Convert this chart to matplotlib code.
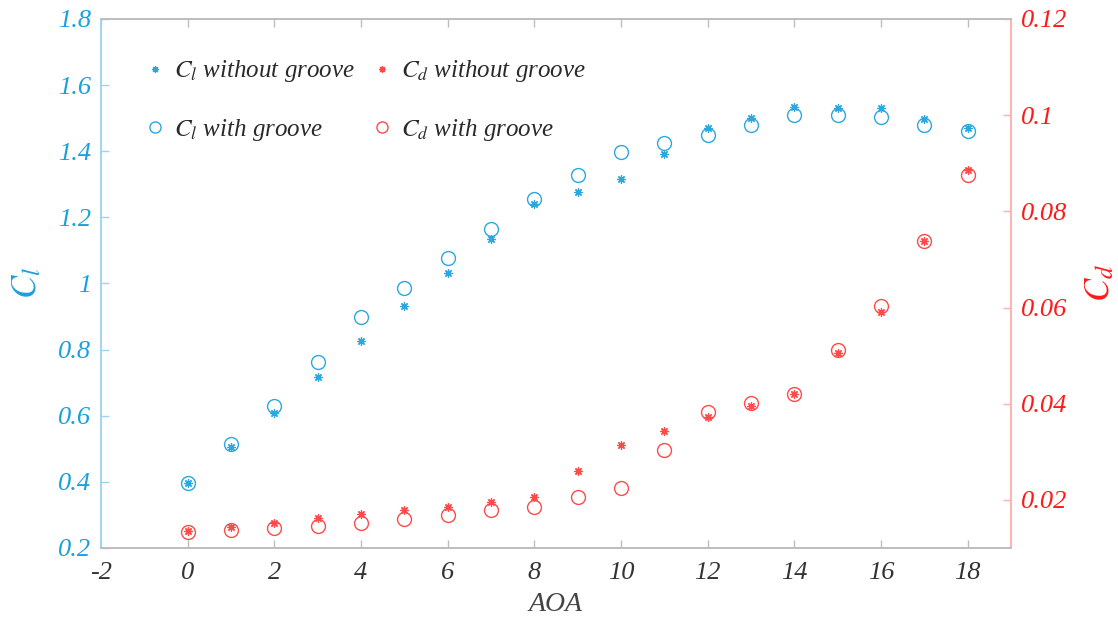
import matplotlib
matplotlib.use("Agg")
import matplotlib.pyplot as plt

plt.rcParams['font.family'] = ['Liberation Serif', 'DejaVu Serif']
plt.rcParams['font.style'] = 'italic'
plt.rcParams['mathtext.fontset'] = 'stix'

aoa = [0, 1, 2, 3, 4, 5, 6, 7, 8, 9, 10, 11, 12, 13, 14, 15, 16, 17, 18]
cl_without = [0.396, 0.506, 0.609, 0.718, 0.826, 0.932, 1.031, 1.134, 1.239, 1.276,
              1.317, 1.392, 1.470, 1.501, 1.533, 1.530, 1.530, 1.498, 1.470]
cl_with = [0.398, 0.515, 0.630, 0.763, 0.898, 0.986, 1.077, 1.166, 1.256, 1.327,
           1.399, 1.424, 1.450, 1.479, 1.510, 1.510, 1.505, 1.480, 1.460]
cd_without = [0.0135, 0.0143, 0.0153, 0.0162, 0.0170, 0.0179, 0.0186, 0.0196, 0.0205, 0.0260,
              0.0314, 0.0343, 0.0372, 0.0396, 0.0420, 0.0505, 0.0590, 0.0739, 0.0887]
cd_with = [0.0133, 0.0138, 0.0142, 0.0146, 0.0151, 0.0160, 0.0169, 0.0178, 0.0186, 0.0205,
           0.0225, 0.0303, 0.0382, 0.0401, 0.0420, 0.0512, 0.0603, 0.0739, 0.0875]

x_ticks = [-2, 0, 2, 4, 6, 8, 10, 12, 14, 16, 18]
cl_ticks = [0.2, 0.4, 0.6, 0.8, 1.0, 1.2, 1.4, 1.6, 1.8]
cl_ticklabels = ['0.2', '0.4', '0.6', '0.8', '1', '1.2', '1.4', '1.6', '1.8']
cd_ticks = [0.02, 0.04, 0.06, 0.08, 0.10, 0.12]
cd_ticklabels = ['0.02', '0.04', '0.06', '0.08', '0.1', '0.12']

BLUE = '#1aa0dc'
BLUE_M = '#2aa8e0'
RED = '#ff1a1a'
RED_M = '#ff4a4a'
GRAY = '#bdbdbd'

fig = plt.figure(figsize=(11.18, 6.24), dpi=100)
ax = fig.add_axes([0.0903, 0.1218, 0.8140, 0.8478])
ax2 = ax.twinx()

asterisk = (8, 2, 0)
h1, = ax.plot(aoa, cl_without, linestyle='none', marker=asterisk, ms=6, mew=0.9,
              color=BLUE_M, label=r'$C_l$ without groove')
h2, = ax.plot(aoa, cl_with, linestyle='none', marker='o', ms=10, mew=1.0,
              mfc='none', mec=BLUE_M, label=r'$C_l$ with groove')
h3, = ax2.plot(aoa, cd_without, linestyle='none', marker=asterisk, ms=6, mew=0.9,
               color=RED_M, label=r'$C_d$ without groove')
h4, = ax2.plot(aoa, cd_with, linestyle='none', marker='o', ms=10, mew=1.0,
               mfc='none', mec=RED_M, label=r'$C_d$ with groove')

ax.set_xlim(-2, 19)
ax.set_ylim(0.2, 1.8)
ax2.set_ylim(0.01, 0.12)

ax.set_xticks(x_ticks)
ax.set_xticklabels([str(t) for t in x_ticks])
ax.set_yticks(cl_ticks)
ax.set_yticklabels(cl_ticklabels)
ax2.set_yticks(cd_ticks)
ax2.set_yticklabels(cd_ticklabels)

for a in (ax, ax2):
    a.spines['top'].set_color(GRAY)
    a.spines['bottom'].set_color(GRAY)
    a.spines['left'].set_color('#9ed6f2')
    a.spines['right'].set_color('#ffb0b0')
    for s in a.spines.values():
        s.set_linewidth(1.2)

ax.tick_params(axis='x', direction='in', top=True, length=6, width=1.0, color=GRAY,
               labelsize=19, labelcolor='#333333', pad=10)
ax.tick_params(axis='y', direction='in', length=6, width=1.0, color='#9ed6f2',
               labelsize=19, labelcolor=BLUE, pad=7)
ax2.tick_params(axis='y', direction='in', length=6, width=1.0, color='#ffb0b0',
                labelsize=19, labelcolor=RED, pad=7)

ax.set_xlabel('AOA', fontsize=20, color='#444444', labelpad=6)
ax.set_ylabel(r'$C_l$', fontsize=25, color=BLUE, labelpad=10)
ax2.set_ylabel(r'$C_d$', fontsize=25, color=RED, rotation=90, labelpad=12)

leg = ax.legend(handles=[h1, h2, h3, h4], ncol=2, frameon=False, fontsize=18,
                loc='upper left', bbox_to_anchor=(0.025, 0.968),
                handlelength=0.7, handletextpad=0.4, columnspacing=0.75,
                labelspacing=1.3, markerscale=0.8)
for t in leg.get_texts():
    t.set_color('#2a2a2a')

fig.savefig('out.png', dpi=100)
